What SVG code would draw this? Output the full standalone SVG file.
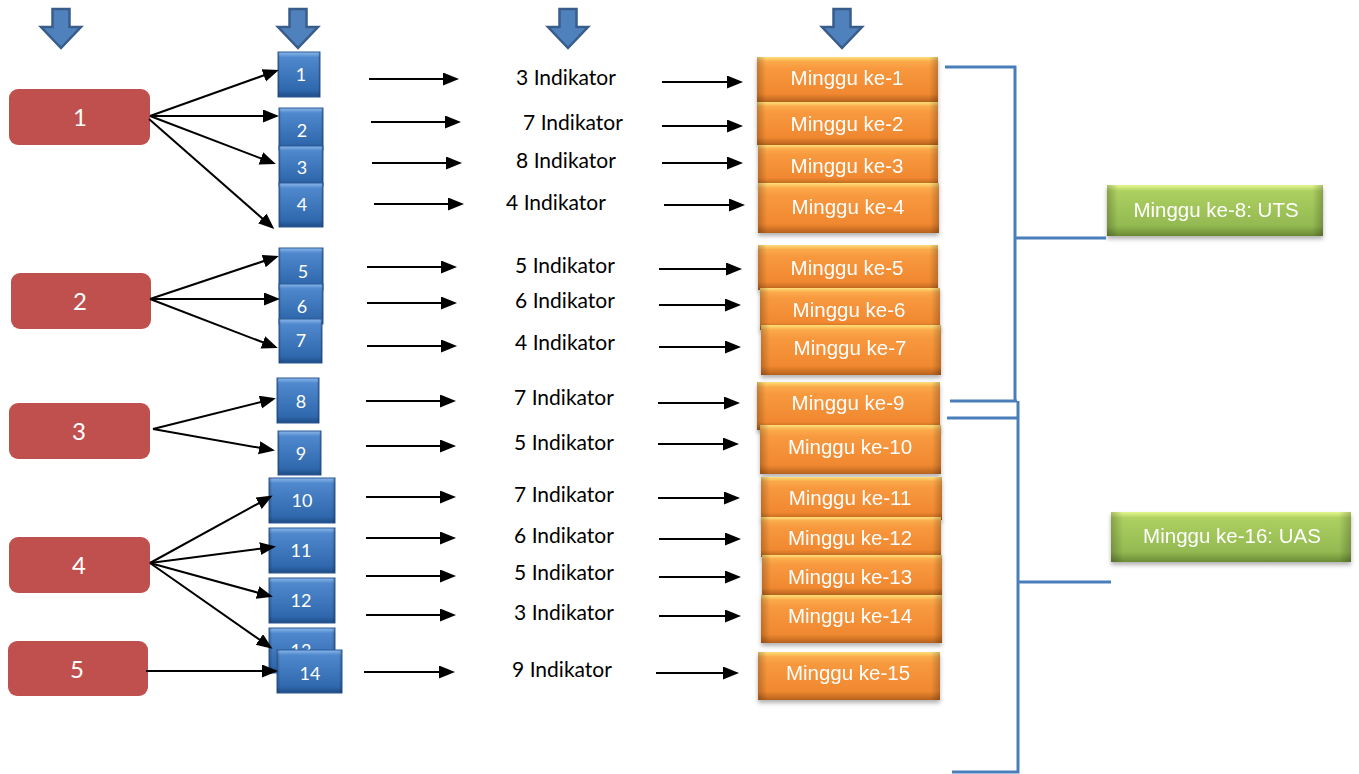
<svg xmlns="http://www.w3.org/2000/svg" width="1359" height="774" viewBox="0 0 1359 774">
  <defs>
    <linearGradient id="gBlue" x1="0" y1="0" x2="0" y2="1">
      <stop offset="0" stop-color="#8bb8ec"/>
      <stop offset="0.12" stop-color="#4f88cc"/>
      <stop offset="0.85" stop-color="#2f68ad"/>
      <stop offset="1" stop-color="#1f4c85"/>
    </linearGradient>
    <linearGradient id="gOrange" x1="0" y1="0" x2="0" y2="1">
      <stop offset="0" stop-color="#ffe07a"/>
      <stop offset="0.1" stop-color="#fbaa4a"/>
      <stop offset="0.25" stop-color="#f8993f"/>
      <stop offset="0.82" stop-color="#f08830"/>
      <stop offset="1" stop-color="#b5621d"/>
    </linearGradient>
    <linearGradient id="gGreen" x1="0" y1="0" x2="0" y2="1">
      <stop offset="0" stop-color="#e3f78e"/>
      <stop offset="0.12" stop-color="#add060"/>
      <stop offset="0.8" stop-color="#93b952"/>
      <stop offset="1" stop-color="#6b8a34"/>
    </linearGradient>
    <linearGradient id="gSide" x1="0" y1="0" x2="1" y2="0">
      <stop offset="0" stop-color="#000" stop-opacity="0.22"/>
      <stop offset="0.05" stop-color="#000" stop-opacity="0"/>
      <stop offset="0.95" stop-color="#000" stop-opacity="0"/>
      <stop offset="1" stop-color="#000" stop-opacity="0.22"/>
    </linearGradient>
    <filter id="shadow" x="-10%" y="-10%" width="120%" height="140%">
      <feDropShadow dx="0" dy="3" stdDeviation="2" flood-color="#000" flood-opacity="0.3"/>
    </filter>
    <marker id="ah" markerUnits="userSpaceOnUse" markerWidth="17" markerHeight="14" refX="13" refY="6.5" orient="auto">
      <path d="M0,0 L16,6.5 L0,13 Z" fill="#000"/>
    </marker>
    <path id="downArrow" d="M-8.5,9 H8.5 V27 H20 L0,48 L-20,27 H-8.5 Z"/>
  </defs>
  <style>
    .red rect { fill: #c0504d; }
    .red text { font-family: Lato, "Liberation Sans", sans-serif; font-size: 24px; fill: #fff; text-anchor: middle; }
    .sq .base { fill: url(#gBlue); stroke: #2a5a96; stroke-width: 1; }
    .sq .side, .og .side, .gr .side { fill: url(#gSide); }
    .sq text { font-family: Lato, "Liberation Sans", sans-serif; font-size: 18px; fill: #fff; text-anchor: middle; }
    .og { filter: url(#shadow); }
    .og .base { fill: url(#gOrange); }
    .og text { font-family: "Liberation Sans", Arial, sans-serif; font-size: 20.5px; fill: #fff; text-anchor: middle; }
    .gr { filter: url(#shadow); }
    .gr .base { fill: url(#gGreen); }
    .gr text { font-family: "Liberation Sans", Arial, sans-serif; font-size: 20.5px; fill: #fff; text-anchor: middle; }
    .ind { font-family: Lato, "Liberation Sans", sans-serif; font-size: 21px; fill: #000; text-anchor: middle; }
    .head use { fill: #4f81bd; stroke: #385d8a; stroke-width: 2.5; }
    #connectors line { stroke: #000; stroke-width: 2; marker-end: url(#ah); }
    #brackets path { fill: none; stroke: #4a7ebb; stroke-width: 3; }
  </style>

  <rect width="1359" height="774" fill="#fff"/>

  <!-- column heading arrows -->
  <g id="headArrows" class="head">
    <use href="#downArrow" x="61" y="0"/>
    <use href="#downArrow" x="298" y="0"/>
    <use href="#downArrow" x="568" y="0"/>
    <use href="#downArrow" x="842" y="0"/>
  </g>

  <!-- competency boxes -->
  <g id="k1" class="red"><rect x="9" y="89" width="141" height="56" rx="9"/><text x="80" y="126">1</text></g>
  <g id="k2" class="red"><rect x="11" y="273" width="140" height="56" rx="9"/><text x="80" y="310">2</text></g>
  <g id="k3" class="red"><rect x="9" y="403" width="141" height="56" rx="9"/><text x="79" y="440">3</text></g>
  <g id="k4" class="red"><rect x="9" y="537" width="141" height="56" rx="9"/><text x="79" y="574">4</text></g>
  <g id="k5" class="red"><rect x="8" y="641" width="140" height="55" rx="9"/><text x="77" y="678">5</text></g>

  <!-- sub-competency squares -->
  <g id="s1" class="sq"><rect class="base" x="278" y="52" width="42" height="45"/><rect class="side" x="278" y="52" width="42" height="45"/><text x="301" y="81">1</text></g>
  <g id="s2" class="sq"><rect class="base" x="279" y="108" width="44" height="42"/><rect class="side" x="279" y="108" width="44" height="42"/><text x="302" y="137">2</text></g>
  <g id="s3" class="sq"><rect class="base" x="279" y="146" width="44" height="40"/><rect class="side" x="279" y="146" width="44" height="40"/><text x="302" y="174">3</text></g>
  <g id="s4" class="sq"><rect class="base" x="279" y="183" width="44" height="44"/><rect class="side" x="279" y="183" width="44" height="44"/><text x="302" y="211">4</text></g>
  <g id="s5" class="sq"><rect class="base" x="279" y="248" width="44" height="42"/><rect class="side" x="279" y="248" width="44" height="42"/><text x="303" y="278">5</text></g>
  <g id="s6" class="sq"><rect class="base" x="279" y="284" width="44" height="40"/><rect class="side" x="279" y="284" width="44" height="40"/><text x="302" y="313">6</text></g>
  <g id="s7" class="sq"><rect class="base" x="279" y="319" width="43" height="44"/><rect class="side" x="279" y="319" width="43" height="44"/><text x="301" y="347">7</text></g>
  <g id="s8" class="sq"><rect class="base" x="277" y="378" width="42" height="45"/><rect class="side" x="277" y="378" width="42" height="45"/><text x="301" y="408">8</text></g>
  <g id="s9" class="sq"><rect class="base" x="278" y="431" width="43" height="44"/><rect class="side" x="278" y="431" width="43" height="44"/><text x="301" y="460">9</text></g>
  <g id="s10" class="sq"><rect class="base" x="269" y="478" width="66" height="45"/><rect class="side" x="269" y="478" width="66" height="45"/><text x="302" y="507">10</text></g>
  <g id="s11" class="sq"><rect class="base" x="269" y="528" width="66" height="45"/><rect class="side" x="269" y="528" width="66" height="45"/><text x="301" y="557">11</text></g>
  <g id="s12" class="sq"><rect class="base" x="269" y="578" width="66" height="45"/><rect class="side" x="269" y="578" width="66" height="45"/><text x="301" y="607">12</text></g>
  <g id="s13" class="sq"><rect class="base" x="269" y="628" width="66" height="45"/><rect class="side" x="269" y="628" width="66" height="45"/><text x="301" y="657">13</text></g>
  <g id="s14" class="sq"><rect class="base" x="277" y="650" width="65" height="43"/><rect class="side" x="277" y="650" width="65" height="43"/><text x="310" y="680">14</text></g>

  <!-- indicator counts -->
  <g id="indicators">
    <text class="ind" x="566" y="85">3 Indikator</text>
    <text class="ind" x="573" y="130">7 Indikator</text>
    <text class="ind" x="566" y="168">8 Indikator</text>
    <text class="ind" x="556" y="210">4 Indikator</text>
    <text class="ind" x="565" y="273">5 Indikator</text>
    <text class="ind" x="565" y="308">6 Indikator</text>
    <text class="ind" x="565" y="350">4 Indikator</text>
    <text class="ind" x="564" y="405">7 Indikator</text>
    <text class="ind" x="564" y="450">5 Indikator</text>
    <text class="ind" x="564" y="502">7 Indikator</text>
    <text class="ind" x="564" y="543">6 Indikator</text>
    <text class="ind" x="564" y="580">5 Indikator</text>
    <text class="ind" x="564" y="620">3 Indikator</text>
    <text class="ind" x="562" y="677">9 Indikator</text>
  </g>

  <!-- weekly meeting boxes -->
  <g id="w1" class="og"><rect class="base" x="757" y="57" width="181" height="45"/><rect class="side" x="757" y="57" width="181" height="45"/><text x="847" y="85">Minggu ke-1</text></g>
  <g id="w2" class="og"><rect class="base" x="757" y="102" width="181" height="43"/><rect class="side" x="757" y="102" width="181" height="43"/><text x="847" y="131">Minggu ke-2</text></g>
  <g id="w3" class="og"><rect class="base" x="758" y="145" width="180" height="40"/><rect class="side" x="758" y="145" width="180" height="40"/><text x="847" y="173">Minggu ke-3</text></g>
  <g id="w4" class="og"><rect class="base" x="758" y="183" width="181" height="50"/><rect class="side" x="758" y="183" width="181" height="50"/><text x="848" y="214">Minggu ke-4</text></g>
  <g id="w5" class="og"><rect class="base" x="758" y="245" width="180" height="45"/><rect class="side" x="758" y="245" width="180" height="45"/><text x="847" y="275">Minggu ke-5</text></g>
  <g id="w6" class="og"><rect class="base" x="760" y="288" width="180" height="42"/><rect class="side" x="760" y="288" width="180" height="42"/><text x="849" y="317">Minggu ke-6</text></g>
  <g id="w7" class="og"><rect class="base" x="761" y="325" width="180" height="50"/><rect class="side" x="761" y="325" width="180" height="50"/><text x="850" y="355">Minggu ke-7</text></g>
  <g id="w9" class="og"><rect class="base" x="757" y="382" width="183" height="48"/><rect class="side" x="757" y="382" width="183" height="48"/><text x="848" y="410">Minggu ke-9</text></g>
  <g id="w10" class="og"><rect class="base" x="760" y="425" width="181" height="49"/><rect class="side" x="760" y="425" width="181" height="49"/><text x="850" y="454">Minggu ke-10</text></g>
  <g id="w11" class="og"><rect class="base" x="761" y="477" width="181" height="43"/><rect class="side" x="761" y="477" width="181" height="43"/><text x="850" y="505">Minggu ke-11</text></g>
  <g id="w12" class="og"><rect class="base" x="761" y="517" width="180" height="40"/><rect class="side" x="761" y="517" width="180" height="40"/><text x="850" y="545">Minggu ke-12</text></g>
  <g id="w13" class="og"><rect class="base" x="762" y="555" width="180" height="40"/><rect class="side" x="762" y="555" width="180" height="40"/><text x="850" y="584">Minggu ke-13</text></g>
  <g id="w14" class="og"><rect class="base" x="761" y="595" width="181" height="48"/><rect class="side" x="761" y="595" width="181" height="48"/><text x="850" y="623">Minggu ke-14</text></g>
  <g id="w15" class="og"><rect class="base" x="758" y="652" width="182" height="48"/><rect class="side" x="758" y="652" width="182" height="48"/><text x="848" y="680">Minggu ke-15</text></g>

  <!-- exam boxes -->
  <g id="uts" class="gr"><rect class="base" x="1107" y="185" width="216" height="51"/><rect class="side" x="1107" y="185" width="216" height="51"/><text x="1216" y="217">Minggu ke-8: UTS</text></g>
  <g id="uas" class="gr"><rect class="base" x="1111" y="512" width="240" height="50"/><rect class="side" x="1111" y="512" width="240" height="50"/><text x="1232" y="543">Minggu ke-16: UAS</text></g>

  <!-- brackets grouping the weeks -->
  <g id="brackets">
    <path d="M945,67 H1015 V401"/>
    <path d="M1015,238 H1106"/>
    <path d="M950,401 H1017"/>
    <path d="M947,418 H1018"/>
    <path d="M1018,401 V772 H952"/>
    <path d="M1018,582 H1111"/>
  </g>

  <!-- connectors -->
  <g id="connectors">
    <line x1="150" y1="116" x2="276" y2="71"/>
    <line x1="150" y1="116" x2="276" y2="116"/>
    <line x1="150" y1="116" x2="273" y2="163"/>
    <line x1="149" y1="119" x2="272" y2="227"/>

    <line x1="150" y1="299" x2="276" y2="257"/>
    <line x1="150" y1="299" x2="277" y2="299"/>
    <line x1="150" y1="299" x2="275" y2="347"/>

    <line x1="153" y1="429" x2="273" y2="399"/>
    <line x1="153" y1="429" x2="272" y2="450"/>

    <line x1="150" y1="563" x2="270" y2="497"/>
    <line x1="150" y1="563" x2="273" y2="547"/>
    <line x1="150" y1="563" x2="270" y2="596"/>
    <line x1="150" y1="563" x2="270" y2="647"/>

    <line x1="146" y1="671" x2="275" y2="671"/>

    <line x1="369" y1="79" x2="456" y2="79"/>
    <line x1="371" y1="122" x2="458" y2="122"/>
    <line x1="372" y1="163" x2="459" y2="163"/>
    <line x1="374" y1="204" x2="461" y2="204"/>
    <line x1="367" y1="267" x2="454" y2="267"/>
    <line x1="367" y1="303" x2="454" y2="303"/>
    <line x1="367" y1="346" x2="454" y2="346"/>
    <line x1="366" y1="401" x2="453" y2="401"/>
    <line x1="366" y1="446" x2="453" y2="446"/>
    <line x1="366" y1="497" x2="453" y2="497"/>
    <line x1="366" y1="538" x2="453" y2="538"/>
    <line x1="366" y1="576" x2="453" y2="576"/>
    <line x1="366" y1="615" x2="453" y2="615"/>
    <line x1="364" y1="672" x2="452" y2="672"/>

    <line x1="662" y1="82" x2="740" y2="82"/>
    <line x1="662" y1="126" x2="740" y2="126"/>
    <line x1="662" y1="163" x2="740" y2="163"/>
    <line x1="664" y1="205" x2="742" y2="205"/>
    <line x1="659" y1="269" x2="739" y2="269"/>
    <line x1="659" y1="305" x2="738" y2="305"/>
    <line x1="659" y1="347" x2="738" y2="347"/>
    <line x1="658" y1="403" x2="737" y2="403"/>
    <line x1="658" y1="444" x2="736" y2="444"/>
    <line x1="658" y1="498" x2="737" y2="498"/>
    <line x1="659" y1="539" x2="738" y2="539"/>
    <line x1="659" y1="577" x2="738" y2="577"/>
    <line x1="659" y1="616" x2="738" y2="616"/>
    <line x1="656" y1="673" x2="736" y2="673"/>
  </g>
</svg>
